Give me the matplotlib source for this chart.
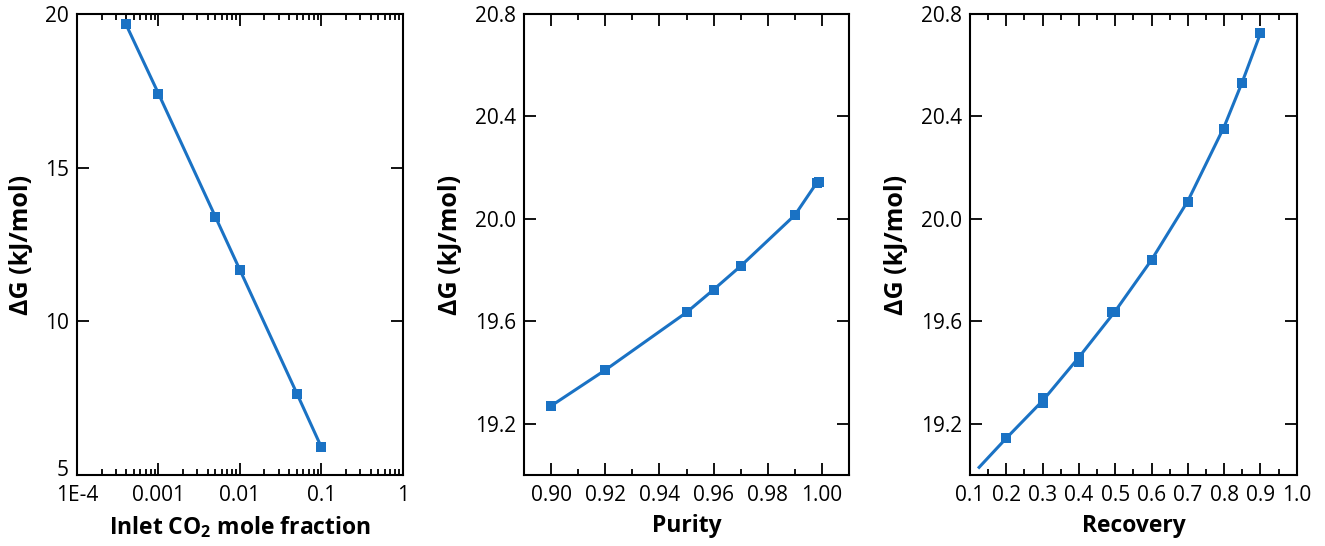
import numpy as np
import matplotlib
matplotlib.use("Agg")
import matplotlib.pyplot as plt
import matplotlib.transforms as mtransforms
from matplotlib.ticker import MultipleLocator, FixedLocator, LogLocator, NullFormatter

plt.rcParams["font.family"] = ["Open Sans", "DejaVu Sans"]
plt.rcParams["mathtext.fontset"] = "custom"
plt.rcParams["mathtext.rm"] = "Open Sans:bold"
plt.rcParams["mathtext.it"] = "Open Sans:bold"
plt.rcParams["mathtext.bf"] = "Open Sans:bold"

# panel 1: inlet CO2 mole fraction
co2_frac = [0.0004, 0.001, 0.005, 0.01, 0.05, 0.1]
dg_co2 = [19.66, 17.41, 13.40, 11.67, 7.65, 5.90]

# panel 2: purity
purity = [0.90, 0.92, 0.95, 0.96, 0.97, 0.99, 0.998, 0.999]
dg_purity = [19.27, 19.41, 19.635, 19.724, 19.816, 20.015, 20.14, 20.145]

# panel 3: recovery (line starts before first marker)
recovery_line = [0.125, 0.2, 0.3, 0.4, 0.5, 0.6, 0.7, 0.8, 0.85, 0.9]
dg_recovery_line = [19.03, 19.144, 19.29, 19.46, 19.64, 19.84, 20.07, 20.36, 20.535, 20.725]
recovery = [0.2, 0.3, 0.3, 0.4, 0.4, 0.49, 0.5, 0.6, 0.7, 0.8, 0.85, 0.9]
dg_recovery = [19.144, 19.28, 19.30, 19.44, 19.46, 19.635, 19.635, 19.84, 20.065, 20.35, 20.53, 20.725]

co2_ticks = [1e-4, 1e-3, 1e-2, 1e-1, 1]
co2_ticklabels = ["1E-4", "0.001", "0.01", "0.1", "1"]
co2_dg_ticks = [5, 10, 15, 20]
recovery_ticks = [0.1, 0.2, 0.3, 0.4, 0.5, 0.6, 0.7, 0.8, 0.9, 1.0]
purity_ticks = [0.90, 0.92, 0.94, 0.96, 0.98, 1.00]
dg_ticks = [19.2, 19.6, 20.0, 20.4, 20.8]

blue = "#1a72c4"
tick_fs = 15
xlabel_fs = 16.5
ylabel_fs = 18

fig = plt.figure(figsize=(13.25, 5.46), dpi=100)
ax1 = fig.add_axes([0.0581, 0.130, 0.246, 0.8443])
ax2 = fig.add_axes([0.3955, 0.130, 0.2453, 0.8443])
ax3 = fig.add_axes([0.7321, 0.130, 0.2466, 0.8443])

ax1.plot(co2_frac, dg_co2, color=blue, lw=2.2)
ax1.plot(co2_frac, dg_co2, "s", color=blue, ms=6.5, mew=0)
ax1.set_xscale("log")
ax1.set_xlim(1e-4, 1)
ax1.set_ylim(5, 20)
ax1.xaxis.set_major_locator(FixedLocator(co2_ticks))
ax1.set_xticklabels(co2_ticklabels)
ax1.xaxis.set_minor_locator(LogLocator(base=10, subs=np.arange(2, 10)))
ax1.xaxis.set_minor_formatter(NullFormatter())
ax1.yaxis.set_major_locator(FixedLocator(co2_dg_ticks))
ax1.set_yticklabels([str(v) for v in co2_dg_ticks])
ax1.set_xlabel("Inlet CO$_2$ mole fraction", fontsize=xlabel_fs, fontweight="bold", labelpad=6)

ax2.plot(purity, dg_purity, color=blue, lw=2.2)
ax2.plot(purity, dg_purity, "s", color=blue, ms=6.5, mew=0)
ax2.set_xlim(0.89, 1.01)
ax2.set_ylim(19.0, 20.8)
ax2.xaxis.set_major_locator(FixedLocator(purity_ticks))
ax2.set_xticklabels([f"{v:.2f}" for v in purity_ticks])
ax2.xaxis.set_minor_locator(FixedLocator([0.91, 0.93, 0.95, 0.97, 0.99]))
ax2.set_xlabel("Purity", fontsize=xlabel_fs, fontweight="bold", labelpad=6)

ax3.plot(recovery_line, dg_recovery_line, color=blue, lw=2.2)
ax3.plot(recovery, dg_recovery, "s", color=blue, ms=6.5, mew=0)
ax3.set_xlim(0.1, 1.0)
ax3.set_ylim(19.0, 20.8)
ax3.xaxis.set_major_locator(FixedLocator(recovery_ticks))
ax3.set_xticklabels([f"{v:.1f}" for v in recovery_ticks])
ax3.xaxis.set_minor_locator(FixedLocator([0.15, 0.25, 0.35, 0.45, 0.55, 0.65, 0.75, 0.85, 0.95]))
ax3.set_xlabel("Recovery", fontsize=xlabel_fs, fontweight="bold", labelpad=6)

for ax in (ax2, ax3):
    ax.yaxis.set_major_locator(FixedLocator(dg_ticks))
    ax.set_yticklabels([f"{v:.1f}" for v in dg_ticks])

for ax in (ax1, ax2, ax3):
    ax.set_ylabel("\u0394G (kJ/mol)", fontsize=ylabel_fs, fontweight="bold", labelpad=8)
    ax.tick_params(which="both", direction="in", top=True, right=True,
                   labelsize=tick_fs, width=1.3)
    ax.tick_params(axis="x", which="both", pad=7)
    ax.tick_params(axis="y", which="both", pad=6)
    ax.tick_params(which="major", length=8.5)
    ax.tick_params(which="minor", length=4)
    for sp in ax.spines.values():
        sp.set_linewidth(1.5)

# lift the bottom "5" label a little so it clears "1E-4"
lift = mtransforms.ScaledTranslation(0, 5 / 72, fig.dpi_scale_trans)
for t in ax1.yaxis.get_major_ticks():
    if t.get_loc() == 5:
        t.label1.set_transform(t.label1.get_transform() + lift)

fig.savefig("out.png", dpi=100)
